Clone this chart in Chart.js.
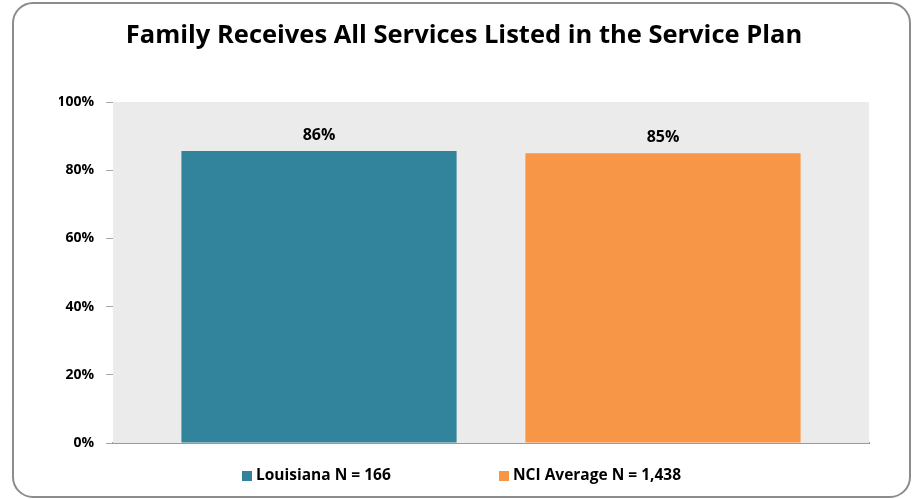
<!DOCTYPE html>
<html>
<head>
<meta charset="utf-8">
<script src="https://cdn.jsdelivr.net/npm/chart.js@4/dist/chart.umd.min.js"></script>
<style>
  html, body { margin: 0; padding: 0; background: #fff; }
  #wrap { width: 913px; height: 499px; position: relative; }
</style>
</head>
<body>
<div id="wrap"><canvas id="myChart" width="913" height="499"></canvas></div>
<script>
// chart data
const titleText = 'Family Receives All Services Listed in the Service Plan';
const seriesNames = ['Louisiana N = 166', 'NCI Average N = 1,438'];
const seriesValues = [85.6, 85.0];
const seriesColors = ['#31849B', '#F79646'];
const yTicks = [0, 20, 40, 60, 80, 100];

const FONT = "'Open Sans', 'Liberation Sans', sans-serif";

// rounded grey frame round the whole chart
const framePlugin = {
    id: 'frame',
    beforeDraw(chart) {
        const ctx = chart.ctx;
        ctx.save();
        ctx.fillStyle = '#fff';
        ctx.fillRect(0, 0, chart.width, chart.height);
        ctx.strokeStyle = '#8c8c8c';
        ctx.lineWidth = 2;
        ctx.beginPath();
        ctx.roundRect(13, 3, chart.width - 16, chart.height - 5, 20);
        ctx.stroke();
        ctx.restore();
    }
};

// value labels above the bars
const valueLabels = {
    id: 'valueLabels',
    afterDatasetsDraw(chart) {
        const ctx = chart.ctx;
        ctx.save();
        ctx.font = "bold 16px " + FONT;
        ctx.fillStyle = '#000';
        ctx.textAlign = 'center';
        ctx.textBaseline = 'bottom';
        chart.data.datasets.forEach((ds, i) => {
            const bar = chart.getDatasetMeta(i).data[0];
            ctx.fillText(Math.round(ds.data[0]) + '%', bar.x, bar.y - 8);
        });
        ctx.restore();
    }
};

// legend drawn under the plot with Excel-like spacing
const bottomLegend = {
    id: 'bottomLegend',
    afterDraw(chart) {
        const ctx = chart.ctx;
        const y = 476;
        const starts = [242, 499];
        ctx.save();
        ctx.font = "bold 15.5px " + FONT;
        ctx.textBaseline = 'middle';
        ctx.textAlign = 'left';
        chart.data.datasets.forEach((ds, i) => {
            ctx.fillStyle = ds.backgroundColor;
            ctx.fillRect(starts[i], y - 5, 10, 10);
            ctx.fillStyle = '#000';
            ctx.fillText(ds.label, starts[i] + 14, y);
        });
        ctx.restore();
    }
};

// grey plot background
const plotBg = {
    id: 'plotBg',
    beforeDatasetsDraw(chart) {
        const a = chart.chartArea;
        const ctx = chart.ctx;
        ctx.save();
        ctx.fillStyle = '#EBEBEB';
        ctx.fillRect(a.left, a.top, a.right - a.left, a.bottom - a.top);
        ctx.restore();
    }
};

const chart = new Chart(document.getElementById('myChart').getContext('2d'), {
    type: 'bar',
    data: {
        labels: [''],
        datasets: seriesNames.map((name, i) => ({
            label: name,
            data: [seriesValues[i]],
            backgroundColor: seriesColors[i],
            borderWidth: 0,
            categoryPercentage: 0.91,
            barPercentage: 0.8
        }))
    },
    options: {
        responsive: false,
        animation: false,
        layout: { padding: { left: 59, right: 44, top: 0, bottom: 0 } },
        plugins: {
            legend: { display: false },
            tooltip: { enabled: false },
            title: {
                display: true,
                text: titleText,
                color: '#000',
                font: { family: FONT, size: 25.5, weight: 'bold' },
                padding: { top: 20, bottom: 51.4 }
            }
        },
        scales: {
            x: {
                grid: { display: false, drawTicks: false },
                border: { color: '#9a9a9a', width: 2 },
                ticks: { display: false },
                afterFit(scale) { scale.height = 56; }
            },
            y: {
                min: 0,
                max: 100,
                afterBuildTicks(scale) { scale.ticks = yTicks.map(v => ({ value: v })); },
                afterFit(scale) { scale.width = 54; },
                grid: { color: '#a6a6a6', lineWidth: 1, tickLength: 7, drawOnChartArea: true },
                border: { color: '#9a9a9a', width: 1 },
                ticks: {
                    padding: 12,
                    color: '#000',
                    font: { family: FONT, size: 14, weight: 'bold' },
                    callback: v => v + '%'
                }
            }
        }
    },
    plugins: [framePlugin, plotBg, valueLabels, bottomLegend]
});
</script>
</body>
</html>
